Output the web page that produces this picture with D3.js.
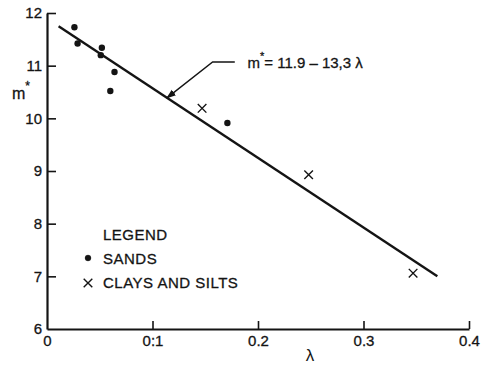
<!DOCTYPE html>
<html>
<head>
<meta charset="utf-8">
<script src="https://cdn.jsdelivr.net/npm/d3@7"></script>
<style>
  body { margin: 0; background: #fff; }
  svg { display: block; font-family: "Liberation Sans", "DejaVu Sans", sans-serif; }
</style>
</head>
<body>
<div id="chart"></div>
<script>
const sandsLambda = [0.026, 0.029, 0.052, 0.051, 0.064, 0.060, 0.171];
const sandsM = [11.73, 11.42, 11.34, 11.20, 10.88, 10.52, 9.91];
const claysLambda = [0.147, 0.248, 0.347];
const claysM = [10.19, 8.93, 7.06];
const fitLambda = [0.011, 0.37];
const fitM = [11.75, 7.0];
const xTicks = [0, 0.1, 0.2, 0.3, 0.4];
const xTickLabels = ["0", "0:1", "0.2", "0.3", "0.4"];
const yTicks = [6, 7, 8, 9, 10, 11, 12];

const w = 488, h = 365;
const margin = { top: 13, right: 19, bottom: 36, left: 47 };
const innerW = w - margin.left - margin.right;
const innerH = h - margin.top - margin.bottom;
const ink = "#141414";

const svg = d3.select("#chart").append("svg")
  .attr("width", w)
  .attr("height", h);

const g = svg.append("g")
  .attr("transform", `translate(${margin.left},${margin.top})`);

const x = d3.scaleLinear().domain([0, 0.4]).range([0, innerW]);
const y = d3.scaleLinear().domain([6, 12]).range([innerH, 0]);

// axes, ticks point inward like the original drawing
const xAxis = g.append("g")
  .attr("transform", `translate(0,${innerH})`)
  .call(d3.axisBottom(x).tickValues(xTicks).tickSizeInner(-8).tickSizeOuter(0).tickPadding(6)
    .tickFormat((d, i) => xTickLabels[i]));

const yAxis = g.append("g")
  .call(d3.axisLeft(y).tickValues(yTicks).tickSizeInner(-9).tickSizeOuter(0).tickPadding(5)
    .tickFormat(d3.format("d")));

[xAxis, yAxis].forEach(a => {
  a.select(".domain").attr("stroke", ink).attr("stroke-width", 2.2);
  a.selectAll(".tick line").attr("stroke", ink).attr("stroke-width", 1.6);
  a.selectAll(".tick text").attr("fill", ink).style("font-size", "15px")
    .attr("stroke", ink).attr("stroke-width", 0.3);
});
xAxis.selectAll(".tick").filter(d => d === 0).select("line").remove();
yAxis.selectAll(".tick").filter(d => d === 6).select("line").remove();

// fitted line
const line = d3.line().x(d => x(d[0])).y(d => y(d[1]));
g.append("path")
  .datum(d3.zip(fitLambda, fitM))
  .attr("d", line)
  .attr("fill", "none")
  .attr("stroke", ink)
  .attr("stroke-width", 2.4);

// sands
g.selectAll(".sand")
  .data(d3.zip(sandsLambda, sandsM))
  .join("circle")
  .attr("class", "sand")
  .attr("cx", d => x(d[0]))
  .attr("cy", d => y(d[1]))
  .attr("r", 3.2)
  .attr("fill", ink);

// clays and silts
const cross = d3.symbol().type(d3.symbolTimes).size(50);
g.selectAll(".clay")
  .data(d3.zip(claysLambda, claysM))
  .join("path")
  .attr("class", "clay")
  .attr("transform", d => `translate(${x(d[0])},${y(d[1])})`)
  .attr("d", cross)
  .attr("fill", "none")
  .attr("stroke", ink)
  .attr("stroke-width", 1.4);

// leader to the line
svg.append("defs").append("marker")
  .attr("id", "arrow")
  .attr("viewBox", "0 0 10 10")
  .attr("refX", 9).attr("refY", 5)
  .attr("markerWidth", 7).attr("markerHeight", 7)
  .attr("orient", "auto")
  .append("path").attr("d", "M0,1.5L10,5L0,8.5Z").attr("fill", ink);

const tipL = 0.1137;
const tipM = 11.9 - 13.3 * tipL;
g.append("path")
  .attr("d", `M${x(0.178)},${y(11.07)}H${x(0.157)}L${x(tipL)},${y(tipM)}`)
  .attr("fill", "none")
  .attr("stroke", ink)
  .attr("stroke-width", 1.4)
  .attr("marker-end", "url(#arrow)");

const eq = g.append("text")
  .attr("x", x(0.19))
  .attr("y", y(11.07) + 6)
  .attr("fill", ink)
  .attr("stroke", ink).attr("stroke-width", 0.3)
  .style("font-size", "15px");
eq.append("tspan").text("m");
eq.append("tspan").attr("dy", -8).style("font-size", "11px").text("*");
eq.append("tspan").attr("dy", 8).text("= 11.9 – 13,3  λ");

// axis titles
const ml = svg.append("text")
  .attr("x", 12).attr("y", 99)
  .attr("fill", ink)
  .attr("stroke", ink).attr("stroke-width", 0.3)
  .style("font-size", "16px");
ml.append("tspan").text("m");
ml.append("tspan").attr("dy", -9).style("font-size", "12px").text("*");

svg.append("text")
  .attr("x", 310).attr("y", 361)
  .attr("text-anchor", "middle")
  .attr("fill", ink)
  .style("font-size", "17px")
  .text("λ");

// legend
const legend = svg.append("g")
  .attr("fill", ink)
  .attr("stroke", ink).attr("stroke-width", 0.3)
  .style("font-size", "15px")
  .style("letter-spacing", "0.5px");
legend.append("text").attr("x", 103).attr("y", 240).text("LEGEND");
legend.append("text").attr("x", 103).attr("y", 264).text("SANDS");
legend.append("text").attr("x", 103).attr("y", 288).text("CLAYS AND SILTS");
legend.append("circle").attr("cx", 88).attr("cy", 258).attr("r", 3).attr("fill", ink);
legend.append("path")
  .attr("transform", "translate(88,283)")
  .attr("d", cross)
  .attr("fill", "none")
  .attr("stroke", ink)
  .attr("stroke-width", 1.4);
</script>
</body>
</html>
